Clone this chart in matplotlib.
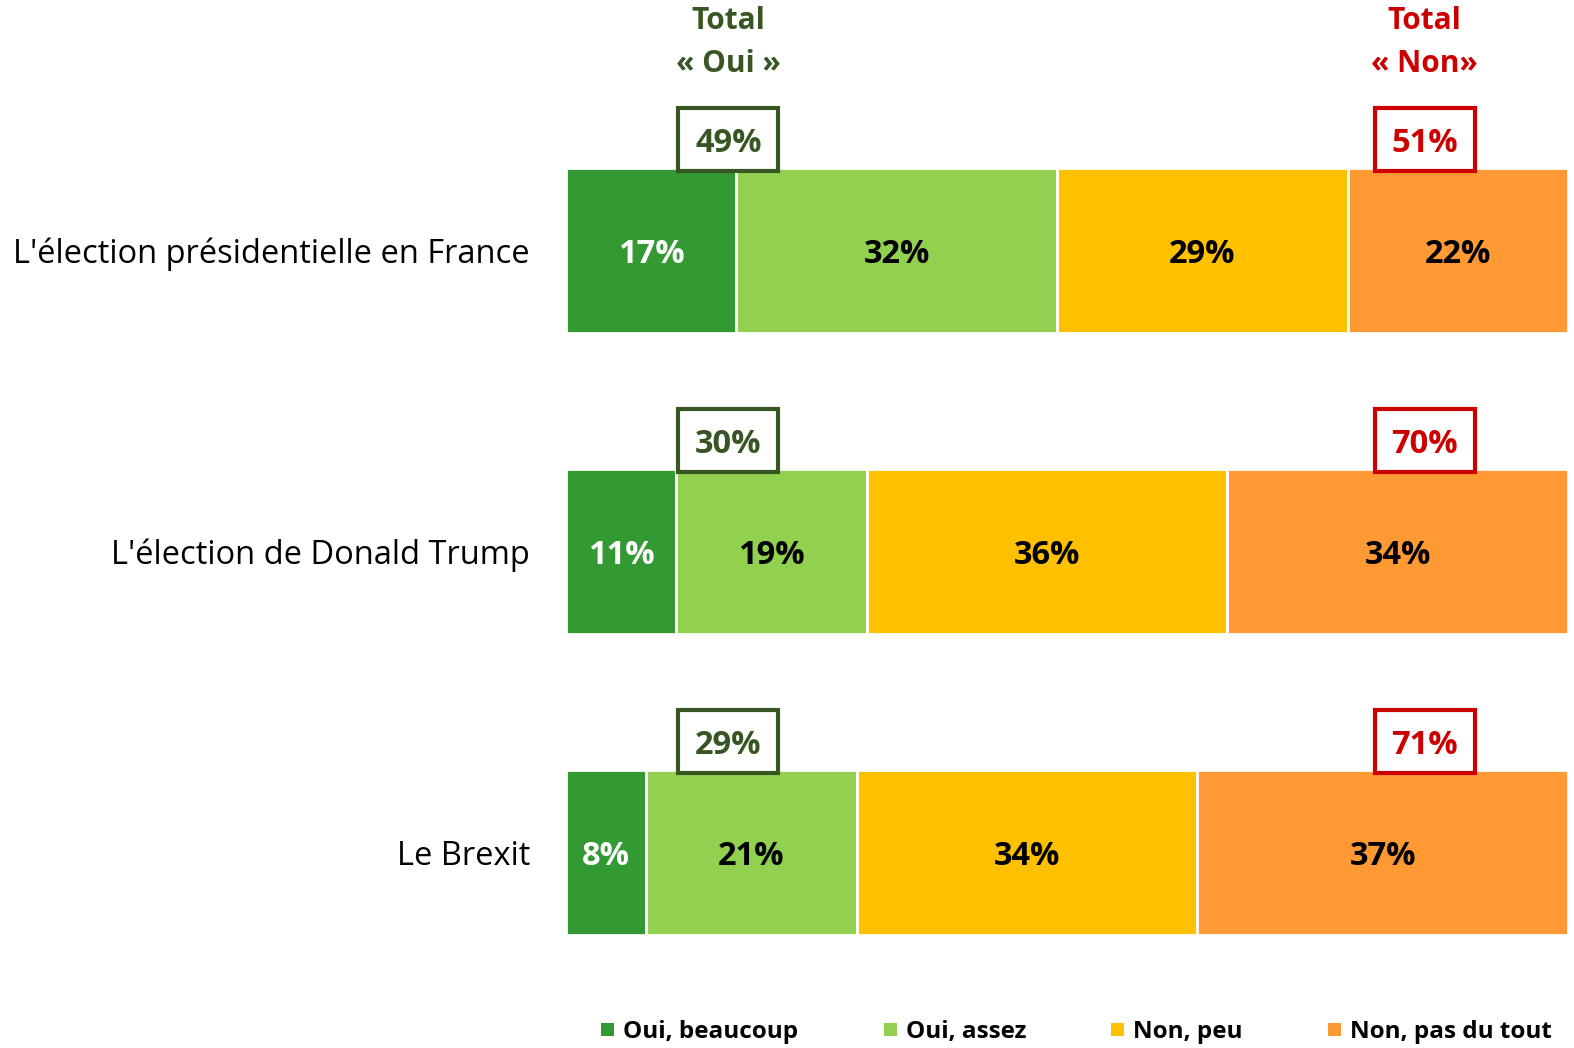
import matplotlib
matplotlib.use('Agg')

import matplotlib.pyplot as plt
import matplotlib.patches as mpatches
import numpy as np

plt.rcParams['font.family'] = ['Open Sans', 'DejaVu Sans']

# données
categories = ["L'élection présidentielle en France", "L'élection de Donald Trump", "Le Brexit"]
series = ['Oui, beaucoup', 'Oui, assez', 'Non, peu', 'Non, pas du tout']
oui_beaucoup = [17, 11, 8]
oui_assez = [32, 19, 21]
non_peu = [29, 36, 34]
non_pas_du_tout = [22, 34, 37]
total_oui = [49, 30, 29]
total_non = [51, 70, 71]

colors = ['#339933', '#92D050', '#FFC000', '#FF9933']
text_colors = ['white', 'black', 'black', 'black']
green_dark = '#375623'
red = '#CC0000'

W, H = 1574, 1048
fig = plt.figure(figsize=(W / 100, H / 100), dpi=100)
ax = fig.add_axes([566 / W, 0, (1568 - 566) / W, 1])
ax.set_xlim(0, 100)
ax.set_ylim((H - 250.5) / 301, -250.5 / 301)
ax.axis('off')

y = np.arange(len(categories))
values = [oui_beaucoup, oui_assez, non_peu, non_pas_du_tout]
left = np.zeros(len(categories))
for vals, col, tcol in zip(values, colors, text_colors):
    vals = np.array(vals)
    ax.barh(y, vals, left=left, height=0.548, color=col, edgecolor='white', linewidth=2)
    for yi, l, v in zip(y, left, vals):
        ax.text(l + v / 2, yi, f'{v}%', ha='center', va='center_baseline', fontsize=23.5,
                fontweight='bold', color=tcol)
    left += vals

# étiquettes des catégories
for yi, cat in zip(y, categories):
    ax.text(-3.6, yi, cat, ha='right', va='center_baseline', fontsize=23.5, color='black',
            clip_on=False)

# totaux encadrés
box_y = -0.37
for yi, to, tn in zip(y, total_oui, total_non):
    for xc, val, col in [(16.2, to, green_dark), (85.7, tn, red)]:
        ax.add_patch(mpatches.Rectangle((xc - 5, yi + box_y - 0.105), 10, 0.21,
                                        facecolor='white', edgecolor=col, linewidth=3,
                                        zorder=3, clip_on=False))
        ax.text(xc, yi + box_y, f'{val}%', ha='center', va='center_baseline', fontsize=23.5,
                fontweight='bold', color=col, zorder=4)

# en-têtes
ax.text(16.2, -0.69, 'Total\n« Oui »', ha='center', va='center', fontsize=21.5,
        fontweight='bold', color=green_dark, linespacing=1.55)
ax.text(85.7, -0.69, 'Total\n« Non»', ha='center', va='center', fontsize=21.5,
        fontweight='bold', color=red, linespacing=1.55)

# légende
leg_x = [601, 884, 1111, 1328]
for lx, lab, col in zip(leg_x, series, colors):
    fig.patches.append(mpatches.Rectangle((lx / W, 1 - 1036 / H), 13 / W, 13 / H,
                                          facecolor=col, transform=fig.transFigure))
    fig.text((lx + 22) / W, 1 - 1029 / H, lab, ha='left', va='center_baseline', fontsize=17.5,
             fontweight='bold', color='black')

plt.savefig('out.png', dpi=100)
